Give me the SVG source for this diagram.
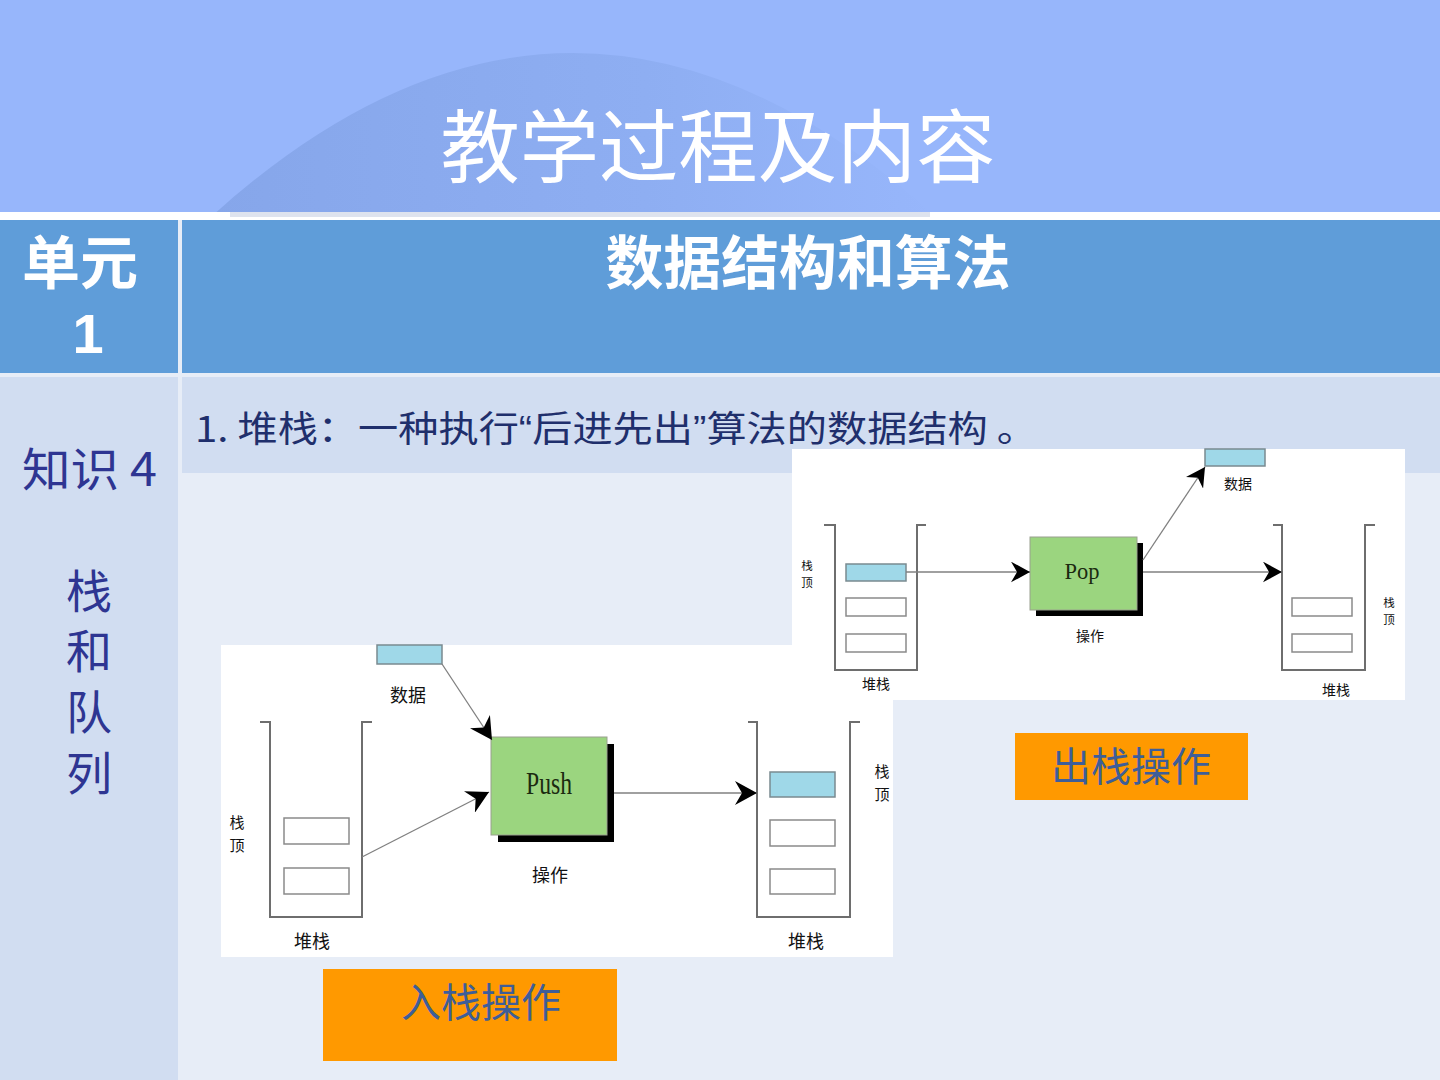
<svg xmlns="http://www.w3.org/2000/svg" width="1440" height="1080" viewBox="0 0 1440 1080">
<style>
.cjk{font-family:"Noto Sans CJK SC","Liberation Sans",sans-serif}
.lbl{font-family:"Noto Sans CJK SC",sans-serif;fill:#111;text-anchor:middle}
.wall{fill:none;stroke:#6e6e6e;stroke-width:2}
.cell{fill:#fff;stroke:#8a8a8a;stroke-width:1.5}
.top{fill:#9fd8e8;stroke:#7a8a90;stroke-width:1.5}
.conn{stroke:#808080;stroke-width:1.3;fill:none}
.op{fill:#9bd57f;stroke:#9aa090;stroke-width:1}
.btn{fill:#ff9900}
.btntxt{font-family:"Noto Sans CJK SC",sans-serif;fill:#3e5e98;font-size:40px;text-anchor:middle}
.q{font-family:"Liberation Sans",sans-serif}
</style>
<defs>
<linearGradient id="arcg" x1="0" y1="0" x2="1" y2="0">
<stop offset="0" stop-color="#86a6ea"/>
<stop offset="0.6" stop-color="#8eaef2"/>
<stop offset="1" stop-color="#97b6fb"/>
</linearGradient>
<marker id="ah" markerUnits="userSpaceOnUse" viewBox="0 0 22 24" refX="22" refY="12" markerWidth="22" markerHeight="24" orient="auto">
<path d="M0,0 L22,12 L0,24 L7,12 Z" fill="#000"/>
</marker>
<marker id="ahs" markerUnits="userSpaceOnUse" viewBox="0 0 22 24" refX="22" refY="12" markerWidth="19" markerHeight="21" orient="auto">
<path d="M0,0 L22,12 L0,24 L7,12 Z" fill="#000"/>
</marker>
</defs>

<!-- background -->
<rect x="0" y="0" width="1440" height="1080" fill="#e7edf7"/>
<rect x="0" y="0" width="1440" height="214" fill="#97b6fb"/>
<path d="M212,216 Q572,-110 935,216 Z" fill="url(#arcg)"/>
<rect x="0" y="212" width="1440" height="8" fill="#ffffff"/>
<rect x="230" y="212" width="700" height="5" fill="#d6dcea" opacity="0.8"/>

<!-- table -->
<rect x="0" y="220" width="178" height="153" fill="#5f9dd9"/>
<rect x="182" y="220" width="1258" height="153" fill="#5f9dd9"/>
<rect x="0" y="377" width="178" height="703" fill="#d1ddf1"/>
<rect x="182" y="377" width="1258" height="96" fill="#d1ddf1"/>
<rect x="182" y="475" width="1258" height="605" fill="#e7edf7"/>

<g id="title"><text class="cjk" x="718" y="176" font-size="80" fill="#ffffff" text-anchor="middle" textLength="555" lengthAdjust="spacingAndGlyphs">教学过程及内容</text></g>
<g id="header">
<text class="cjk" x="80" y="284" font-size="58" font-weight="bold" fill="#ffffff" text-anchor="middle">单元</text>
<text x="88" y="353" font-family="Liberation Sans,sans-serif" font-size="56" font-weight="bold" fill="#ffffff" text-anchor="middle">1</text>
<text class="cjk" x="808" y="284" font-size="58" font-weight="bold" fill="#ffffff" text-anchor="middle" textLength="405" lengthAdjust="spacingAndGlyphs">数据结构和算法</text>
</g>
<g id="side" fill="#2e3592">
<text class="cjk" x="22" y="486" font-size="46" textLength="135" lengthAdjust="spacingAndGlyphs">知识 4</text>
<text class="cjk" x="89" y="608" font-size="46" text-anchor="middle">栈</text>
<text class="cjk" x="89" y="668" font-size="46" text-anchor="middle">和</text>
<text class="cjk" x="89" y="729" font-size="46" text-anchor="middle">队</text>
<text class="cjk" x="89" y="790" font-size="46" text-anchor="middle">列</text>
</g>
<g id="line1"><text class="cjk" x="195" y="442" font-size="36" fill="#1f2f6c" textLength="842" lengthAdjust="spacingAndGlyphs">1. 堆栈：一种执行<tspan class="q">“</tspan>后进先出<tspan class="q">”</tspan>算法的数据结构 。</text></g>

<!-- Push image -->
<g id="push-image">
<rect x="221" y="645" width="672" height="312" fill="#ffffff"/>
<g id="push-data"><rect class="top" x="377" y="645" width="65" height="19"/><text class="lbl" x="408" y="702" font-size="18">数据</text></g>
<g id="push-left-stack">
<path class="wall" d="M260,722 H270 V917 H362 V722 H372"/>
<rect class="cell" x="284" y="818" width="65" height="26"/>
<rect class="cell" x="284" y="868" width="65" height="26"/>
<text class="lbl" x="237" y="828" font-size="15">栈</text><text class="lbl" x="237" y="851" font-size="15">顶</text>
<text class="lbl" x="312" y="948" font-size="18">堆栈</text>
</g>
<g id="push-op">
<rect x="498" y="744" width="116" height="98" fill="#000"/>
<rect class="op" x="491" y="737" width="116" height="98"/>
<text x="549" y="794" font-family="Liberation Serif,serif" font-size="32" fill="#1b2a10" text-anchor="middle" textLength="46" lengthAdjust="spacingAndGlyphs">Push</text>
<text class="lbl" x="550" y="882" font-size="18">操作</text>
</g>
<g id="push-right-stack">
<path class="wall" d="M748,722 H757 V917 H850 V722 H860"/>
<rect class="top" x="770" y="772" width="65" height="25"/>
<rect class="cell" x="770" y="820" width="65" height="26"/>
<rect class="cell" x="770" y="869" width="65" height="25"/>
<text class="lbl" x="882" y="777" font-size="15">栈</text><text class="lbl" x="882" y="800" font-size="15">顶</text>
<text class="lbl" x="806" y="948" font-size="18">堆栈</text>
</g>
</g>

<!-- Pop image -->
<g id="pop-image">
<rect x="792" y="449" width="613" height="251" fill="#ffffff"/>
<g id="pop-data"><rect class="top" x="1205" y="449" width="60" height="17"/><text class="lbl" x="1238" y="489" font-size="14">数据</text></g>
<g id="pop-left-stack">
<path class="wall" d="M824,525 H835 V670 H917 V525 H926"/>
<rect class="top" x="846" y="564" width="60" height="17"/>
<rect class="cell" x="846" y="598" width="60" height="18"/>
<rect class="cell" x="846" y="634" width="60" height="18"/>
<text class="lbl" x="807" y="570" font-size="11.5">栈</text><text class="lbl" x="807" y="587" font-size="11.5">顶</text>
<text class="lbl" x="876" y="689" font-size="14">堆栈</text>
</g>
<g id="pop-op">
<rect x="1036" y="543" width="107" height="73" fill="#000"/>
<rect class="op" x="1030" y="537" width="107" height="73"/>
<text x="1082" y="579" font-family="Liberation Serif,serif" font-size="24" fill="#1b2a10" text-anchor="middle" textLength="35" lengthAdjust="spacingAndGlyphs">Pop</text>
<text class="lbl" x="1090" y="641" font-size="14">操作</text>
</g>
<g id="pop-right-stack">
<path class="wall" d="M1273,525 H1282 V670 H1365 V525 H1375"/>
<rect class="cell" x="1292" y="598" width="60" height="18"/>
<rect class="cell" x="1292" y="634" width="60" height="18"/>
<text class="lbl" x="1389" y="607" font-size="11.5">栈</text><text class="lbl" x="1389" y="624" font-size="11.5">顶</text>
<text class="lbl" x="1336" y="695" font-size="14">堆栈</text>
</g>
</g>

<!-- connectors -->
<g id="connectors">
<line class="conn" x1="442" y1="664" x2="492" y2="740" marker-end="url(#ah)"/>
<line class="conn" x1="362" y1="857" x2="489" y2="792" marker-end="url(#ah)"/>
<line class="conn" x1="614" y1="793" x2="757" y2="793" marker-end="url(#ah)"/>
<line class="conn" x1="906" y1="572" x2="1030" y2="572" marker-end="url(#ahs)"/>
<line class="conn" x1="1143" y1="572" x2="1282" y2="572" marker-end="url(#ahs)"/>
<line class="conn" x1="1143" y1="560" x2="1205" y2="467" marker-end="url(#ahs)"/>
</g>

<!-- buttons -->
<g id="btn-pop"><rect class="btn" x="1015" y="733" width="233" height="67"/><text class="btntxt" x="1131" y="781">出栈操作</text></g>
<g id="btn-push"><rect class="btn" x="323" y="969" width="294" height="92"/><text class="btntxt" x="481" y="1017">入栈操作</text></g>
</svg>
